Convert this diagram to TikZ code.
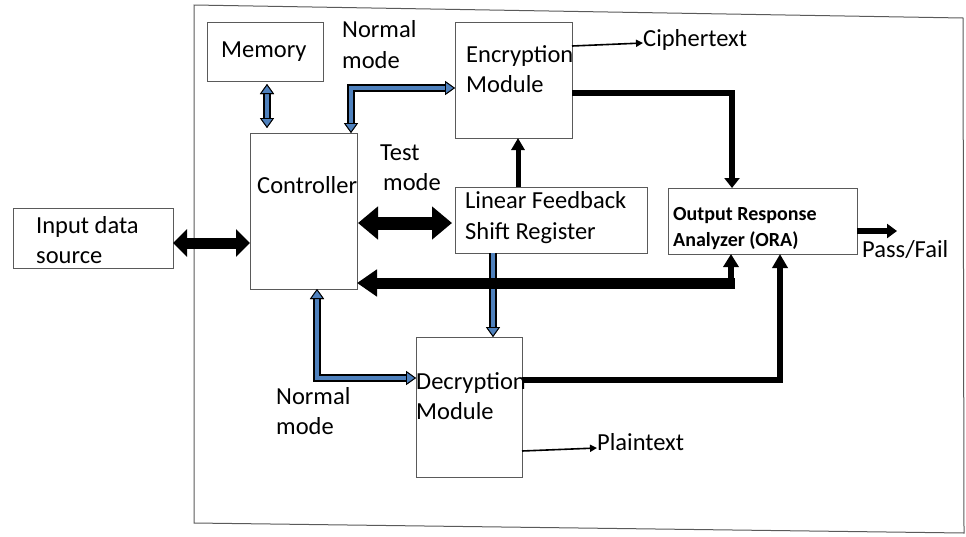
\documentclass[tikz,border=0pt]{standalone}
\usepackage{fontspec}
\setmainfont{Carlito}
\usetikzlibrary{arrows.meta,calc}
\definecolor{bluefill}{HTML}{4F81BD}
\definecolor{edge}{HTML}{5A5A5A}
\begin{document}
\begin{tikzpicture}[x=1pt,y=-1pt,
  box/.style={draw=edge, line width=1pt, inner sep=0pt, outer sep=0pt, anchor=north west},
  txt/.style={anchor=base west, inner sep=0pt, font=\fontsize{24.5}{30}\selectfont},
  btxt/.style={anchor=base west, inner sep=0pt, font=\fontsize{20}{25}\selectfont\bfseries},
  btip/.tip={Triangle[length=10pt,width=14pt,fill=bluefill,color=black,line width=0.9pt]},
  bluearr/.style={draw=bluefill, line width=4.2pt, line join=miter, arrows={#1},
    preaction={draw=black, line width=7.4pt, line join=miter, arrows={#1}}},
  heavy/.style={draw=black, line width=6pt, line join=miter},
  thin/.style={draw=black, line width=1.6pt, -{Triangle[length=7pt,width=7pt]}}
]
\useasboundingbox (0,0) rectangle (966,536);

% outer frame
\draw[edge, line width=1pt] (194,5) -- (963,18) -- (964,533) -- (194,523) -- cycle;

% blocks
\node[box, minimum width=116, minimum height=59]  (mem)  at (207,22)  {};
\node[box, minimum width=107, minimum height=156] (ctrl) at (250,133) {};
\node[box, minimum width=117, minimum height=116] (enc)  at (455,22)  {};
\node[box, minimum width=192, minimum height=66]  (lfsr) at (455,187) {};
\node[box, minimum width=189, minimum height=66]  (ora)  at (668,188) {};
\node[box, minimum width=160, minimum height=60]  (inp)  at (13,208)  {};
\node[box, minimum width=106, minimum height=140] (dec)  at (416,337) {};

% block texts
\node[txt] at (221,57) {Memory};
\node[txt] at (257,193) {Controller};
\node[txt] at (466,62) {Encryption};
\node[txt] at (466,92) {Module};
\node[txt] at (465,208) {Linear Feedback};
\node[txt] at (465,239) {Shift Register};
\node[btxt] at (673,220) {Output Response};
\node[btxt] at (673,246) {Analyzer (ORA)};
\node[txt] at (36,233) {Input data};
\node[txt] at (36,263) {source};
\node[txt] at (416,389) {Decryption};
\node[txt] at (416,419) {Module};

% free labels
\node[txt] at (342,37) {Normal};
\node[txt] at (342,68) {mode};
\node[txt] at (380,160) {Test};
\node[txt] at (383,190) {mode};
\node[txt] at (276,404) {Normal};
\node[txt] at (276,434) {mode};
\node[txt] (cipher) at (643,46) {Ciphertext};
\node[txt] (plain)  at (597,450) {Plaintext};
\node[txt] (pf)     at (862,257) {Pass/Fail};

% bend and end points
\coordinate (tMem)   at (267,0);
\coordinate (nmTop)  at (351,88);
\coordinate (nmBot)  at (317,378);
\coordinate (encOut) at (572,93);
\coordinate (oraIn1) at (732,93);
\coordinate (decOut) at (522,380);
\coordinate (oraIn2) at (780,380);
\coordinate (fbH)    at (735,283);
\coordinate (fbV)    at (731,288);
\coordinate (tLfsr)  at (518,0);
\coordinate (tDec)   at (493,0);
\coordinate (tCL)    at (0,223);
\coordinate (tIC)    at (0,243);
\coordinate (tCiph)  at (0,46);
\coordinate (tPlain) at (0,451);
\coordinate (tPF)    at (0,231);
\coordinate (pfEnd)  at (897,231);

% memory <-> controller
\draw[bluearr={btip-btip}, shorten <=3pt, shorten >=5pt]
  (mem.south -| tMem) -- (ctrl.north -| tMem);

% controller <-> encryption (normal mode)
\draw[bluearr={btip-btip}]
  (ctrl.north -| nmTop) |- (enc.west |- nmTop);

% controller <-> decryption (normal mode)
\draw[bluearr={btip-btip}]
  (ctrl.south -| nmBot) |- (dec.west |- nmBot);

% LFSR -> decryption
\draw[bluearr={-btip}]
  (lfsr.south -| tDec) -- (dec.north -| tDec);

% LFSR -> encryption
\draw[heavy, line width=5pt, -{Triangle[length=12pt,width=13pt]}]
  (lfsr.north -| tLfsr) -- (enc.south -| tLfsr);

% encryption -> ORA
\draw[heavy, -{Triangle[length=10pt,width=15pt]}]
  (encOut) -| (ora.north -| oraIn1);

% decryption -> ORA
\draw[heavy, -{Triangle[length=14pt,width=15pt]}]
  (decOut) -| (ora.south -| oraIn2);

% ORA -> controller feedback
\draw[heavy, line width=11pt, -{Triangle[length=20pt,width=26pt]}]
  (fbH) -- (ctrl.east |- fbH);
\draw[heavy, -{Triangle[length=13pt,width=15pt]}]
  (fbV) -- (ora.south -| fbV);

% controller <-> LFSR (test mode)
\draw[draw=black, line width=13pt, {Triangle[length=20pt,width=32pt]}-{Triangle[length=20pt,width=32pt]}, shorten <=1pt, shorten >=3pt]
  (ctrl.east |- tCL) -- (lfsr.west |- tCL);

% input data source <-> controller
\draw[draw=black, line width=11pt, {Triangle[length=14pt,width=27pt]}-{Triangle[length=14pt,width=27pt]}]
  (inp.east |- tIC) -- (ctrl.west |- tIC);

% outputs
\draw[thin] (enc.east |- tCiph) -- ($(cipher.base west)+(0,-3)$);
\draw[thin] (dec.east |- tPlain) -- ($(plain.base west)+(0,-2)$);
\draw[heavy, -{Triangle[length=10pt,width=14pt]}] (ora.east |- tPF) -- (pfEnd);

\end{tikzpicture}
\end{document}
